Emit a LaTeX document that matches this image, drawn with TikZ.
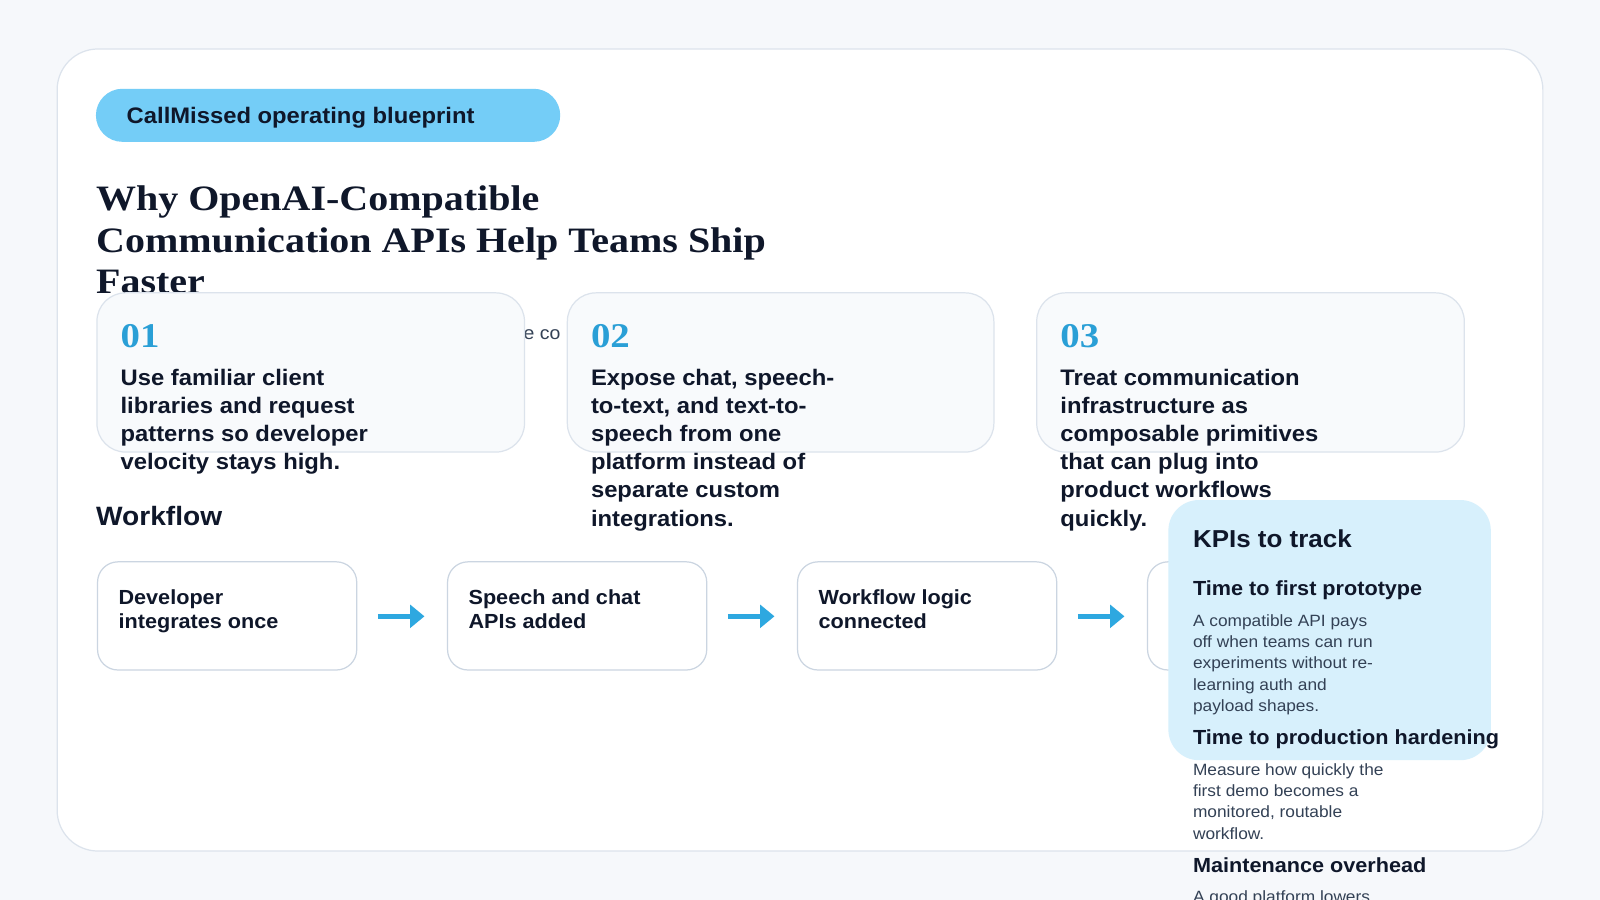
\documentclass[tikz,border=0pt]{standalone}
\usepackage{fontspec}
\setmainfont[FakeStretch=1.06]{Liberation Sans}
\newfontfamily\serif[FakeStretch=1.12]{Liberation Serif}
\usetikzlibrary{arrows.meta}
\definecolor{bg}{HTML}{F6F8FB}
\definecolor{cardline}{HTML}{DCE3EC}
\definecolor{pill}{HTML}{74CDF7}
\definecolor{ink}{HTML}{0F172A}
\definecolor{num}{HTML}{2A9FD6}
\definecolor{gray}{HTML}{334155}
\definecolor{boxline}{HTML}{CBD5E1}
\definecolor{arr}{HTML}{2EA8E0}
\definecolor{kpi}{HTML}{D7F0FC}
\definecolor{ptfill}{HTML}{F8FAFC}
\tikzset{
  txt/.style={inner sep=0pt,anchor=base west,text=ink},
  pointcard/.style={draw=cardline,fill=ptfill,line width=1.2pt,rounded corners=28pt},
  wfbox/.style={draw=boxline,fill=white,line width=1.2pt,rounded corners=20pt},
  flow/.style={draw=arr,line width=5pt,-{Triangle[length=14pt,width=22pt]},shorten <=20pt,shorten >=22pt},
}
\begin{document}
\begin{tikzpicture}[x=1pt,y=-1pt]
\useasboundingbox (0,0) rectangle (1568,882);
\clip (0,0) rectangle (1568,882);
\fill[bg] (0,0) rectangle (1568,882);
\draw[cardline,fill=white,line width=1.2pt,rounded corners=40pt] (56,48) rectangle (1512,834);
\fill[pill,rounded corners=26pt] (94,87) rectangle (549,139);
\node[txt,font=\bfseries\fontsize{22}{26}\selectfont] (pilltxt) at (124,121) {CallMissed operating blueprint};
\foreach \t [count=\i from 0] in {Why OpenAI-Compatible, Communication APIs Help Teams Ship, Faster}
  \node[txt,font=\serif\bfseries\fontsize{35}{41}\selectfont] (title\i) at (94,206+41*\i) {\t};
\node[txt,text=gray,font=\fontsize{18}{22}\selectfont] (sub) at (513,333) {e co};
\path[pointcard] (95,287) rectangle (514,443);
\path[pointcard] (556,287) rectangle (974,443);
\path[pointcard] (1016,287) rectangle (1435,443);
\node[txt,text=num,font=\serif\bfseries\fontsize{34}{40}\selectfont] (n1) at (118,341) {01};
\node[txt,text=num,font=\serif\bfseries\fontsize{34}{40}\selectfont] (n2) at (579,341) {02};
\node[txt,text=num,font=\serif\bfseries\fontsize{34}{40}\selectfont] (n3) at (1039,341) {03};
\tikzset{ct/.style={txt,font=\bfseries\fontsize{22}{27}\selectfont}}
\foreach \t [count=\i from 0] in {Use familiar client, libraries and request, patterns so developer, velocity stays high.}
  \node[ct] (a\i) at (118,378+27.5*\i) {\t};
\foreach \t [count=\i from 0] in {{Expose chat, speech-}, {to-text, and text-to-}, speech from one, platform instead of, separate custom, integrations.}
  \node[ct] (b\i) at (579,378+27.5*\i) {\t};
\foreach \t [count=\i from 0] in {Treat communication, infrastructure as, composable primitives, that can plug into, product workflows, quickly.}
  \node[ct] (c\i) at (1039,378+27.5*\i) {\t};
\node[txt,font=\bfseries\fontsize{26}{30}\selectfont] (wf) at (94,515) {Workflow};
\node[wfbox,minimum width=254pt,minimum height=106pt,anchor=north west] (w1) at (95,550) {};
\node[wfbox,minimum width=254pt,minimum height=106pt,anchor=north west] (w2) at (438,550) {};
\node[wfbox,minimum width=254pt,minimum height=106pt,anchor=north west] (w3) at (781,550) {};
\node[wfbox,minimum width=254pt,minimum height=106pt,anchor=north west] (w4) at (1124,550) {};
\tikzset{wt/.style={txt,font=\bfseries\fontsize{20}{24}\selectfont}}
\node[wt] at (116,592) {Developer};  \node[wt] at (116,616) {integrates once};
\node[wt] at (459,592) {Speech and chat}; \node[wt] at (459,616) {APIs added};
\node[wt] at (802,592) {Workflow logic}; \node[wt] at (802,616) {connected};
\draw[flow] (w1.east |- 0,604) -- (w2.west |- 0,604);
\draw[flow] (w2.east |- 0,604) -- (w3.west |- 0,604);
\draw[flow] (w3.east |- 0,604) -- (w4.west |- 0,604);
\fill[kpi,rounded corners=30pt] (1145,490) rectangle (1461,745);
\node[txt,font=\bfseries\fontsize{24}{28}\selectfont] (kt) at (1169,537) {KPIs to track};
\tikzset{kh/.style={txt,font=\bfseries\fontsize{20}{24}\selectfont},kb/.style={txt,text=gray,font=\fontsize{16}{20}\selectfont}}
\node[kh] (k1) at (1169,584) {Time to first prototype};
\foreach \t [count=\i from 0] in {A compatible API pays, off when teams can run, experiments without re-, learning auth and, payload shapes.}
  \node[kb] (d\i) at (1169,614+20.8*\i) {\t};
\node[kh] (k2) at (1169,730) {Time to production hardening};
\foreach \t [count=\i from 0] in {Measure how quickly the, first demo becomes a, {monitored, routable}, workflow.}
  \node[kb] (e\i) at (1169,760+20.8*\i) {\t};
\node[kh] (k3) at (1169,855) {Maintenance overhead};
\node[kb] (f0) at (1169,884) {A good platform lowers};
\end{tikzpicture}
\end{document}
